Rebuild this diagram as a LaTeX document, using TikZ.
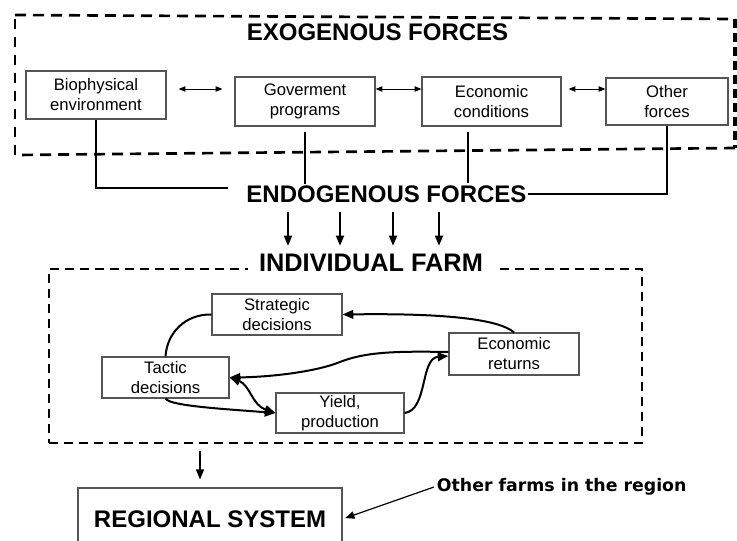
\documentclass[tikz,border=0pt]{standalone}
\usepackage{fontspec}
\setmainfont{Liberation Sans}
\newfontfamily\widefont{DejaVu Sans}
\usetikzlibrary{arrows.meta,calc}
\definecolor{boxgray}{RGB}{85,85,85}
\begin{document}
\begin{tikzpicture}[x=0.75pt,y=-0.75pt,
  box/.style={draw=boxgray, line width=0.9pt, fill=white, align=center,
    font=\fontsize{12.5}{15}\selectfont, inner sep=0pt},
  bigtitle/.style={font=\fontsize{18}{21}\selectfont\bfseries, inner sep=1pt,
    text height=13pt, text depth=0pt},
  exoline/.style={line width=2pt, dash pattern=on 8.25pt off 5.25pt},
  exoleft/.style={line width=1.5pt, dash pattern=on 7.5pt off 6pt},
  exoright/.style={line width=3pt, dash pattern=on 6.75pt off 3.75pt},
  farmbox/.style={draw, line width=1.5pt, dash pattern=on 6.75pt off 4.5pt,
    inner sep=0pt},
  conn/.style={line width=0.9pt},
  dbl/.style={line width=0.75pt, {Triangle[length=5pt,width=4pt]}-{Triangle[length=5pt,width=4pt]}},
  darr/.style={line width=1.25pt, -{Triangle[length=7.5pt,width=6pt]},
    shorten <=6pt, shorten >=5.25pt},
  curv/.style={line width=1.5pt, -{Triangle[length=8pt,width=6.5pt]}},
  curvplain/.style={line width=1.5pt},
  curvboth/.style={line width=1.5pt, {Triangle[length=8pt,width=6.5pt]}-{Triangle[length=8pt,width=6.5pt]}},
  rarr/.style={line width=1pt, -{Triangle[length=7.5pt,width=6pt]}},
  oarr/.style={line width=0.9pt, -{Triangle[length=7pt,width=5.5pt]}},
]
\useasboundingbox (0,0) rectangle (737,540);
\clip (0,0) rectangle (737,540);

% exogenous dashed frame
\draw[exoline] (15,15) -- (735,19);
\draw[exoline] (735,148) -- (15,155);
\draw[exoleft] (15,155) -- (15,15);
\draw[exoright] (735,19) -- (735,148);

\node[bigtitle] (exo) at (377.5,31.5) {EXOGENOUS FORCES};

% exogenous boxes
\node[box, minimum width=105pt, minimum height=36pt] (bio) at (96,95) {Biophysical\\environment};
\node[box, minimum width=105pt, minimum height=36.75pt] (gov) at (305,101.5) {Goverment\\programs};
\node[box, minimum width=104.25pt, minimum height=36.75pt] (econ) at (491.5,101.5) {Economic\\conditions};
\node[box, minimum width=91.5pt, minimum height=35.25pt] (other) at (667,101.5) {Other\\forces};

\coordinate (ay) at (0,89);
\draw[dbl, shorten <=9pt, shorten >=9pt] (bio.east |- ay) -- (gov.west |- ay);
\draw[dbl] (gov.east |- ay) -- (econ.west |- ay);
\draw[dbl, shorten <=5.25pt] (econ.east |- ay) -- (other.west |- ay);

% endogenous forces
\node[bigtitle] (endo) at (386.5,194) {ENDOGENOUS FORCES};
\coordinate (endoL) at (228,188);
\coordinate (ev) at (468,183);
\draw[conn] (bio.south) |- (endoL);
\draw[conn, shorten <=3.75pt] (gov.south) -- (gov.south |- endo.north);
\draw[conn, shorten <=3.75pt] (econ.south -| ev) -- (ev);
\draw[conn] (other.south) |- (endo.east);

% individual farm frame
\node[farmbox, minimum width=444.75pt, minimum height=130.5pt] (farm) at (345.5,356) {};
\node[bigtitle, font=\fontsize{19}{22}\selectfont\bfseries, fill=white, inner xsep=8pt] (farmt) at (371,263) {INDIVIDUAL FARM};

\foreach \xx in {288,340,393,439}
  \draw[darr] (endo.south -| \xx,0) -- (farmt.north -| \xx,0);

% farm boxes
\node[box, minimum width=97.5pt, minimum height=30.75pt] (strat) at (277,314.5) {Strategic\\decisions};
\node[box, minimum width=95.25pt, minimum height=30.75pt] (tactic) at (165.5,377.5) {Tactic\\decisions};
\node[box, minimum width=96pt, minimum height=30pt] (yield) at (340,413) {Yield,\\production};
\node[box, minimum width=97.5pt, minimum height=31.5pt] (ret) at (514,354) {Economic\\returns};

\draw[curv] (ret.north) .. controls (500,320) and (450,313) .. (strat.east);
\draw[curvplain] (tactic.north) .. controls (167,333) and (185,314) .. (strat.west);
\draw[curv] ([yshift=1.5pt]ret.west) .. controls (395,351) and (365,352) .. (340,362)
   .. controls (315,372) and (270,377) .. (tactic.east);
\draw[curvboth] (tactic.east) .. controls (250,385) and (252,405) .. (yield.west);
\draw[curv] (tactic.south) .. controls (170,406) and (225,409) .. (yield.west);
\draw[curv] (yield.east) .. controls (428,410) and (420,358) .. ([yshift=-1.5pt]ret.west);

% regional system
\node[box, font=\fontsize{18}{21}\selectfont\bfseries, minimum width=198pt, minimum height=46.5pt] (reg) at (210,519) {REGIONAL SYSTEM};
\draw[rarr, shorten <=5pt, shorten >=6pt] (farm.south -| 200,0) -- (reg.north -| 200,0);

\node[font=\widefont\fontsize{13}{16}\selectfont\bfseries, anchor=west, inner sep=2pt] (of) at (434,487) {Other farms in the region};
\draw[oarr, shorten >=2pt] (of.west) -- (reg.east);
\end{tikzpicture}
\end{document}
